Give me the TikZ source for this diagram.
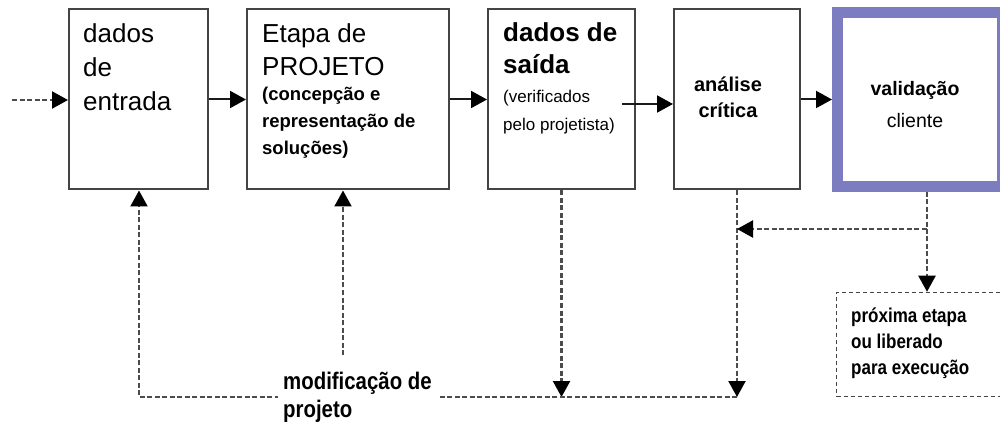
\documentclass[tikz,border=0pt]{standalone}
\usepackage{fontspec}
\setmainfont{Liberation Sans}
\newfontfamily\narrowfont[FakeStretch=0.85]{Liberation Sans}
\usetikzlibrary{arrows.meta}
\definecolor{linegray}{HTML}{444444}
\definecolor{valblue}{HTML}{7C7CC0}
\tikzset{
  etapa/.style={draw=linegray, line width=2pt, minimum width=#1, minimum height=180pt, inner sep=0pt},
  flow/.style={-{Triangle[length=16pt,width=17pt,black]}, line width=2pt, draw=black!90},
  retorno/.style={flow, draw=black!70, line width=2.2pt, dash pattern=on 5pt off 2.5pt},
  rotulo/.style={anchor=north west, inner sep=0pt, align=left}
}
\begin{document}
\begin{tikzpicture}[x=1pt,y=-1pt]
\useasboundingbox (0,0) rectangle (1000,427);
% caixas das etapas
\node[etapa=139pt] (entrada) at (138.5,99.5) {};
\node[etapa=202pt] (projeto) at (348,99.5) {};
\node[etapa=147pt] (saida) at (561.5,99.5) {};
\node[etapa=126pt] (analise) at (737,99.5) {};
\node[draw=valblue, line width=11pt, minimum width=165pt, minimum height=174pt] (validacao) at (920,99.5) {};
\node[draw=linegray, line width=1.5pt, dash pattern=on 4pt off 3pt, minimum width=166pt, minimum height=104pt] (proxima) at (919.5,344.5) {};
% textos
\node[rotulo, font=\fontsize{26}{34}\selectfont] (t-entrada) at (83,23) {dados\\de\\entrada};
\node[rotulo, font=\fontsize{26}{33}\selectfont] (t-projeto) at (262,23) {Etapa de\\PROJETO};
\node[rotulo, font=\bfseries\fontsize{18.5}{27}\selectfont] (s-projeto) at (262,86.5) {(concepção e\\representação de\\soluções)};
\node[rotulo, font=\bfseries\fontsize{26}{32}\selectfont] (t-saida) at (503,22) {dados de\\saída};
\node[rotulo, font=\fontsize{17}{28}\selectfont] (s-saida) at (503,89.5) {(verificados\\pelo projetista)};
\node[rotulo, anchor=north, align=center, font=\bfseries\fontsize{20}{26}\selectfont] (t-analise) at (728,77) {análise\\crítica};
\node[rotulo, anchor=north, align=center, font=\fontsize{19.5}{32}\selectfont] (t-validacao) at (915,81) {\bfseries validação\\cliente};
\node[rotulo, font=\narrowfont\bfseries\fontsize{20}{26}\selectfont] (t-proxima) at (851,308) {próxima etapa\\ou liberado\\para execução};
% ligacoes
\coordinate (inicio) at (12,100);
\coordinate (saida-in) at (622,104);
\coordinate (base-entrada) at (139,397);
\coordinate (base-projeto) at (343,355);
\coordinate (desvio) at (927,229);
\draw[retorno] (inicio) -- (entrada.west |- inicio);
\draw[flow] (entrada.east) -- (projeto.west);
\draw[flow] (projeto.east) -- (saida.west);
\draw[flow] (saida-in) -- (saida-in -| analise.west);
\draw[flow] (analise.east) -- (validacao.west);
\draw[retorno] (saida.south) -- (saida.south |- base-entrada);
\draw[retorno] (analise.south) -- (analise.south |- base-entrada);
\draw[retorno] (analise.south |- base-entrada) -- (base-entrada) -- (entrada.south -| base-entrada);
\draw[retorno] (base-projeto) -- (projeto.south -| base-projeto);
\draw[retorno] (validacao.south -| desvio) -- (desvio) -- (desvio -| analise.south);
\draw[retorno] (desvio) -- (proxima.north -| desvio);
\node[rotulo, fill=white, inner xsep=5pt, inner ysep=3pt, font=\narrowfont\bfseries\fontsize{24}{28}\selectfont] (modificacao) at (278,368.5) {modificação de\\projeto};
\end{tikzpicture}
\end{document}
